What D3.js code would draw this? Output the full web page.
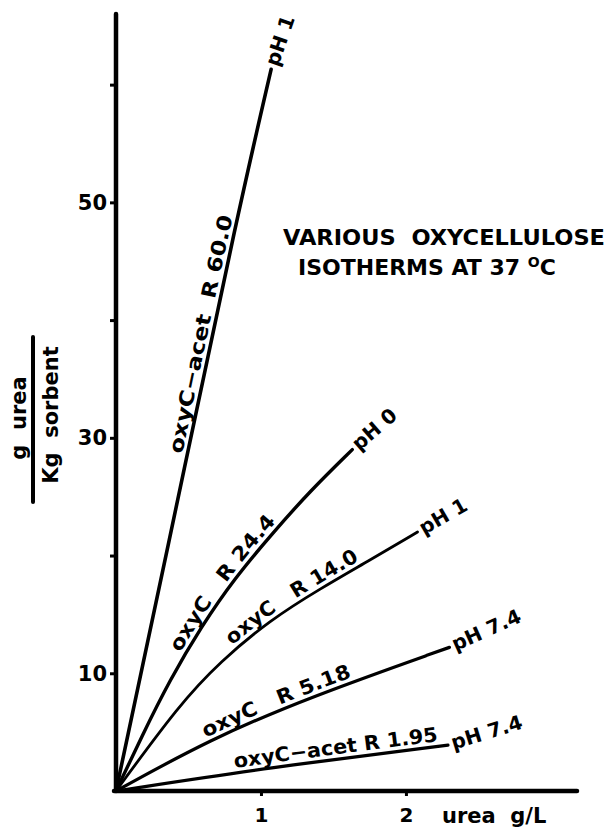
<!DOCTYPE html>
<html>
<head>
<meta charset="utf-8">
<script src="https://cdn.jsdelivr.net/npm/d3@7"></script>
<style>
  body { margin: 0; background: #fff; }
  svg { display: block; }
  text { font-family: "DejaVu Sans", sans-serif; font-weight: bold; fill: #000; }
</style>
</head>
<body>
<div id="chart"></div>
<script>
// urea isotherms (x = urea g/L, y = g urea / Kg sorbent)
var curveNames = ["oxyC\u2212acet\u00a0\u00a0R\u00a060.0", "oxyC\u00a0\u00a0\u00a0R\u00a024.4",
                  "oxyC\u00a0\u00a0\u00a0R\u00a014.0", "oxyC\u00a0\u00a0\u00a0R\u00a05.18",
                  "oxyC\u2212acet\u00a0R\u00a01.95"];
var curvePH = ["pH 1", "pH 0", "pH 1", "pH 7.4", "pH 7.4"];

var ureaR600 = [0, 0.5, 0.83, 1.07];
var sorbR600 = [0, 29, 48.5, 61.3];
var ureaR244 = [0, 0.18, 0.37, 0.59, 0.82, 1.08, 1.34, 1.63];
var sorbR244 = [0, 4.7, 9.4, 14.0, 18.1, 21.9, 25.5, 29.0];
var ureaR140 = [0, 0.44, 0.72, 1.06, 1.41, 1.75, 2.08];
var sorbR140 = [0, 7.4, 11.0, 14.5, 17.2, 19.6, 22.0];
var ureaR518 = [0, 0.65, 1.34, 2.3];
var sorbR518 = [0, 4.4, 8.0, 12.2];
var ureaR195 = [0, 1.06, 2.29];
var sorbR195 = [0, 2.0, 3.9];

var yTicks = [10, 20, 30, 40, 50, 60];
var yTickLabels = [10, 30, 50];
var xTicks = [1, 2];

var seriesX = [ureaR600, ureaR244, ureaR140, ureaR518, ureaR195];
var seriesY = [sorbR600, sorbR244, sorbR140, sorbR518, sorbR195];

// label placement along each curve (px along path) and end-label angle
var labelStart = [343, 152, 186, 104, 121];
var labelLen = [243, 162, 152, 158, 205];
var endAngle = [-71, -41, -30, -24, -17];
var strokeW = [3.6, 3.4, 2.8, 3.2, 3.2];

var width = 612, height = 827;

var svg = d3.select("#chart").append("svg")
    .attr("width", width)
    .attr("height", height);

var x = d3.scaleLinear().domain([0, 3.18]).range([116, 577]);
var y = d3.scaleLinear().domain([0, 66]).range([791, 14]);

// axes
var yAxis = d3.axisLeft(y)
    .tickValues(yTicks)
    .tickSize(6)
    .tickSizeOuter(0)
    .tickPadding(3)
    .tickFormat(function(d) { return yTickLabels.indexOf(d) >= 0 ? d : ""; });

var gy = svg.append("g").attr("transform", "translate(" + x(0) + ",0)").call(yAxis);
gy.select(".domain").remove();
gy.selectAll(".tick line").attr("stroke", "#000").attr("stroke-width", 3);
gy.selectAll(".tick text").attr("font-size", 21).attr("font-family", null).attr("fill", "#000");
gy.append("line")
    .attr("x1", 0).attr("x2", 0)
    .attr("y1", y(0)).attr("y2", y(66))
    .attr("stroke", "#000").attr("stroke-width", 4.5).attr("stroke-linecap", "round");

var xAxis = d3.axisBottom(x)
    .tickValues(xTicks)
    .tickSize(5)
    .tickSizeOuter(0)
    .tickPadding(12)
    .tickFormat(d3.format("d"));

var gx = svg.append("g").attr("transform", "translate(0," + y(0) + ")").call(xAxis);
gx.select(".domain").remove();
gx.selectAll(".tick line").attr("stroke", "#000").attr("stroke-width", 3);
gx.selectAll(".tick text").attr("font-size", 20).attr("font-family", null).attr("fill", "#000");
gx.append("line")
    .attr("x1", x(0) - 2).attr("x2", x(3.18))
    .attr("y1", 0).attr("y2", 0)
    .attr("stroke", "#000").attr("stroke-width", 4.5).attr("stroke-linecap", "round");

svg.append("text")
    .attr("x", 442).attr("y", 823)
    .attr("font-size", 21)
    .text("urea\u00a0\u00a0g/L");

// y label as a fraction
svg.append("text")
    .attr("transform", "translate(26,418) rotate(-90)")
    .attr("text-anchor", "middle")
    .attr("font-size", 21)
    .text("g\u00a0\u00a0urea");
svg.append("line")
    .attr("x1", 33).attr("x2", 33).attr("y1", 337).attr("y2", 502)
    .attr("stroke", "#000").attr("stroke-width", 4).attr("stroke-linecap", "round");
svg.append("text")
    .attr("transform", "translate(58,415) rotate(-90)")
    .attr("text-anchor", "middle")
    .attr("font-size", 21)
    .text("Kg\u00a0\u00a0sorbent");

// title
svg.append("text").attr("font-size", 22)
    .attr("x", 283).attr("y", 245)
    .attr("textLength", 322).attr("lengthAdjust", "spacingAndGlyphs")
    .text("VARIOUS\u00a0\u00a0OXYCELLULOSE");
var t2 = svg.append("text").attr("font-size", 22).attr("x", 298).attr("y", 275);
t2.append("tspan").text("ISOTHERMS AT 37 ");
t2.append("tspan").attr("font-size", 14).attr("dy", -8).text("O");
t2.append("tspan").attr("dy", 8).text("C");

// curves
var line = d3.line()
    .x(function(d) { return x(d[0]); })
    .y(function(d) { return y(d[1]); })
    .curve(d3.curveBasis);

seriesX.forEach(function(xs, i) {
  var pts = xs.map(function(v, j) { return [v, seriesY[i][j]]; });
  var g = svg.append("g");

  g.append("path")
      .attr("id", "curve" + i)
      .attr("d", line(pts))
      .attr("fill", "none")
      .attr("stroke", "#000")
      .attr("stroke-width", strokeW[i])
      .attr("stroke-linecap", "round");

  g.append("text")
      .attr("font-size", 20)
      .attr("dy", -5)
    .append("textPath")
      .attr("href", "#curve" + i)
      .attr("startOffset", labelStart[i])
      .attr("textLength", labelLen[i])
      .attr("lengthAdjust", "spacingAndGlyphs")
      .text(curveNames[i]);

  var last = pts[pts.length - 1];
  g.append("text")
      .attr("font-size", 20)
      .attr("transform", "translate(" + x(last[0]) + "," + y(last[1]) + ") rotate(" + endAngle[i] + ")")
      .attr("x", 4)
      .attr("dy", "0.3em")
      .text(curvePH[i]);
});
</script>
</body>
</html>
